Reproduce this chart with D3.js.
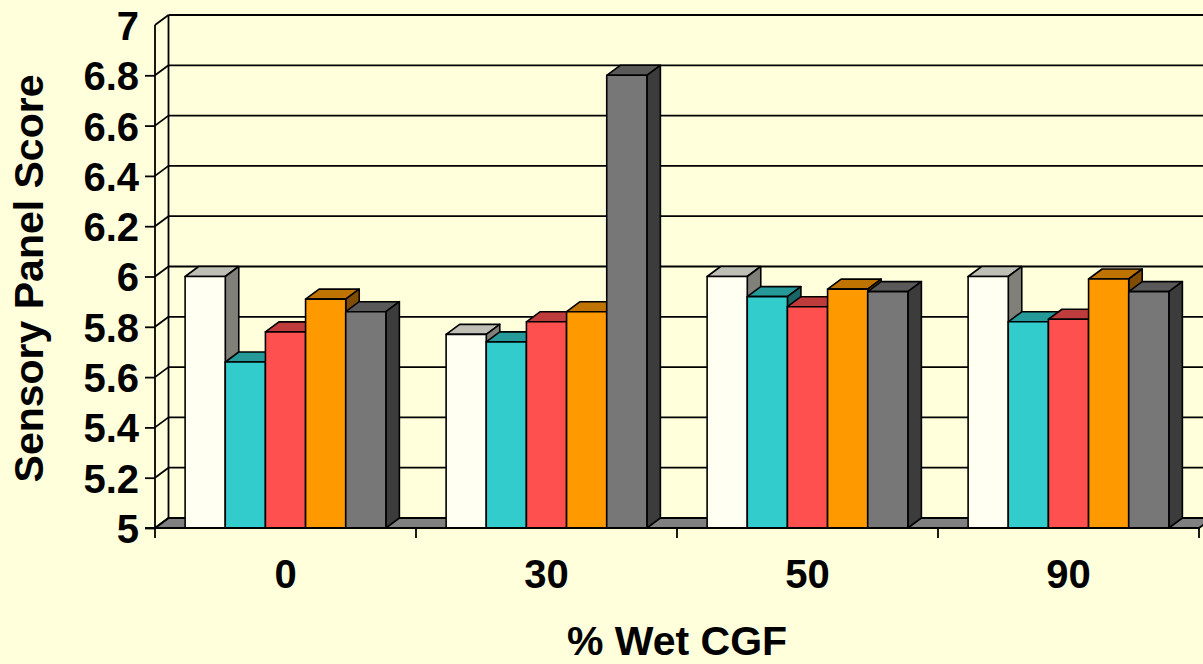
<!DOCTYPE html>
<html>
<head>
<meta charset="utf-8">
<script src="https://cdn.jsdelivr.net/npm/d3@7"></script>
<style>
  html, body { margin: 0; padding: 0; background: #FFFFDC; }
  svg { display: block; }
  text { font-family: "Liberation Sans", Arial, sans-serif; font-weight: bold; fill: #000; }
</style>
</head>
<body>
<svg id="chart" width="1203" height="664"></svg>
<script>
// Sensory panel scores by % wet CGF, five treatments per level
const categories = ["0", "30", "50", "90"];
const seriesKeys = ["s1", "s2", "s3", "s4", "s5"];
const s1 = [6.00, 5.77, 6.00, 6.00];
const s2 = [5.66, 5.74, 5.92, 5.82];
const s3 = [5.78, 5.82, 5.88, 5.83];
const s4 = [5.91, 5.86, 5.95, 5.99];
const s5 = [5.86, 6.80, 5.94, 5.94];
const seriesValues = [s1, s2, s3, s4, s5];
const yTicks = [5, 5.2, 5.4, 5.6, 5.8, 6, 6.2, 6.4, 6.6, 6.8, 7];
const yTitle = "Sensory Panel Score";
const xTitle = "% Wet CGF";

// front faces and shaded top/side faces of each series
const frontColors = ["#FFFFF2", "#33CCCC", "#FF5050", "#FF9900", "#777777"];
const shade = (c, k) => { const r = d3.rgb(c); return d3.rgb(r.r * k, r.g * k, r.b * k).formatHex(); };

const svg = d3.select("#chart");
const W = 1203, H = 664;
const plot = { left: 155, right: 1199, top: 25, bottom: 528 };
const depth = { dx: 13.5, dy: -10 };

const x = d3.scaleBand().domain(categories).range([plot.left, plot.right]).paddingInner(0).paddingOuter(0);
const xs = d3.scaleBand().domain(seriesKeys).range([0, x.bandwidth()]).paddingInner(0).paddingOuter(0.75);
const y = d3.scaleLinear().domain([5, 7]).range([plot.bottom, plot.top]);

const LW = 1.8;

// floor
const floorPts = [
  [plot.left, plot.bottom], [plot.right, plot.bottom],
  [plot.right + depth.dx, plot.bottom + depth.dy], [plot.left + depth.dx, plot.bottom + depth.dy]
];
svg.append("polygon")
  .attr("points", floorPts.map(p => p.join(",")).join(" "))
  .attr("fill", "#808080").attr("stroke", "#000").attr("stroke-width", LW).attr("stroke-linejoin", "round");

// back-wall gridlines and their side-wall diagonals
const grid = svg.append("g").attr("stroke", "#000").attr("stroke-width", LW).attr("fill", "none");
yTicks.forEach(v => {
  const yy = y(v);
  if (v > 5) {
    grid.append("line").attr("x1", plot.left + depth.dx).attr("x2", W + 20)
      .attr("y1", yy + depth.dy).attr("y2", yy + depth.dy);
  }
  grid.append("line").attr("x1", plot.left).attr("y1", yy)
    .attr("x2", plot.left + depth.dx).attr("y2", yy + depth.dy);
});
// back-wall left edge
grid.append("line").attr("x1", plot.left + depth.dx).attr("x2", plot.left + depth.dx)
  .attr("y1", y(7) + depth.dy).attr("y2", plot.bottom + depth.dy);

// bars, drawn left to right so each front face covers its neighbour's side
const bars = [];
categories.forEach((c, ci) => {
  seriesKeys.forEach((k, si) => {
    bars.push({ cat: c, key: k, si, value: seriesValues[si][ci] });
  });
});

const barG = svg.append("g").attr("stroke", "#000").attr("stroke-width", 1.6).attr("stroke-linejoin", "round");
bars.forEach(d => {
  const x0 = x(d.cat) + xs(d.key);
  const x1 = x0 + xs.bandwidth();
  const yt = y(d.value), yb = y(5);
  const col = frontColors[d.si];
  const g = barG.append("g");
  const poly = pts => pts.map(p => p.join(",")).join(" ");
  // top
  g.append("polygon").attr("fill", shade(col, 0.75))
    .attr("points", poly([[x0, yt], [x1, yt], [x1 + depth.dx, yt + depth.dy], [x0 + depth.dx, yt + depth.dy]]));
  // right side
  g.append("polygon").attr("fill", shade(col, 0.5))
    .attr("points", poly([[x1, yt], [x1 + depth.dx, yt + depth.dy], [x1 + depth.dx, yb + depth.dy], [x1, yb]]));
  // front
  g.append("rect").attr("x", x0).attr("y", yt).attr("width", x1 - x0).attr("height", yb - yt)
    .attr("fill", col);
});

// value axis
const yAxis = d3.axisLeft(y).tickValues(yTicks).tickSize(10).tickPadding(6).tickFormat(d => String(d));
const yG = svg.append("g").attr("transform", `translate(${plot.left},0)`).call(yAxis);
yG.select(".domain").attr("stroke", "#000").attr("stroke-width", LW).attr("d", `M-10,${plot.bottom}H0V${plot.top}`);
yG.selectAll(".tick line").attr("stroke", "#000").attr("stroke-width", LW)
  .filter(d => d === 7).remove();
yG.selectAll(".tick text").attr("font-size", 40).attr("font-family", "Liberation Sans, Arial, sans-serif")
  .attr("font-weight", "bold").attr("fill", "#000").attr("dy", "0.36em");

// category axis
const xAxis = d3.axisBottom(x).tickSize(0).tickPadding(0);
const xG = svg.append("g").attr("transform", `translate(0,${plot.bottom})`).call(xAxis);
xG.select(".domain").attr("stroke", "#000").attr("stroke-width", LW).attr("d", `M${plot.left},0H${plot.right}`);
xG.selectAll(".tick text").attr("font-size", 40).attr("font-family", "Liberation Sans, Arial, sans-serif")
  .attr("font-weight", "bold").attr("fill", "#000").attr("y", 60).attr("dy", 0);
// category boundary ticks
const bounds = categories.map(c => x(c)).concat([plot.right]);
xG.selectAll("line.bound").data(bounds).join("line").attr("class", "bound")
  .attr("x1", d => d).attr("x2", d => d).attr("y1", 0).attr("y2", 10)
  .attr("stroke", "#000").attr("stroke-width", LW);

// axis titles
svg.append("text").attr("transform", `translate(43,${(plot.top + plot.bottom) / 2 + 2}) rotate(-90)`)
  .attr("text-anchor", "middle").attr("font-size", 41).text(yTitle);
svg.append("text").attr("x", (plot.left + plot.right) / 2).attr("y", 655)
  .attr("text-anchor", "middle").attr("font-size", 41).text(xTitle);
</script>
</body>
</html>
